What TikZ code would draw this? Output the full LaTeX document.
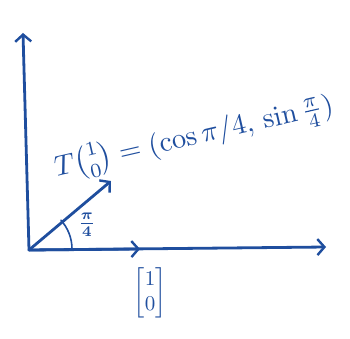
\documentclass[tikz,border=0pt]{standalone}
\usepackage{amsmath}
\usetikzlibrary{arrows.meta}
\definecolor{pen}{HTML}{1F4E9E}
\tikzset{
  ink/.style={draw=pen, line width=2.8pt, line cap=round, line join=round},
  tip/.style={-{Straight Barb[length=7pt,width=16pt,line width=2.4pt]}},
  lbl/.style={text=pen, inner sep=0pt}
}
\begin{document}
\begin{tikzpicture}[x=1pt,y=1pt]
\useasboundingbox (0,0) rectangle (350,338);
\coordinate (O) at (29,88);
\coordinate (Ytop) at (23,305);
\coordinate (Xend) at (326,91);
\coordinate (E1) at (140,89);
\coordinate (V) at (111,157);
\draw[ink, tip] (O) -- (Ytop);
\draw[ink, tip] (O) -- (Xend);
\draw[ink, tip] (O) -- (E1);
\draw[ink, tip] (O) -- (V);
\draw[ink, line width=1.6pt] (72,89) arc[start angle=0, end angle=42, radius=43];
\node[lbl, scale=2.1] (ang) at (87,113) {$\boldsymbol{\frac{\pi}{4}}$};
\node[lbl, scale=2.1] (e1) at (150,45) {$\begin{bmatrix}1\\0\end{bmatrix}$};
\node[lbl, scale=2.85, rotate=13] (eq) at (194,201) {$T\binom{1}{0} = (\cos \pi/4,\, \sin \tfrac{\pi}{4})$};
\end{tikzpicture}
\end{document}
